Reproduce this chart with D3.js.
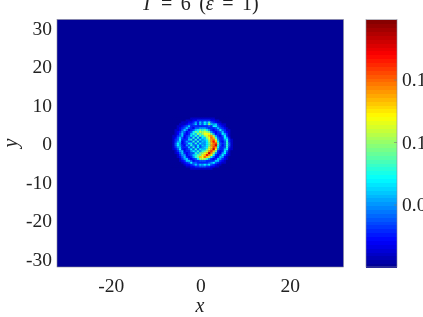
<!DOCTYPE html>
<html>
<head>
<meta charset="utf-8">
<script src="https://cdn.jsdelivr.net/npm/d3@7"></script>
<style>
  html, body { margin: 0; padding: 0; background: #fff; overflow: hidden; }
  text { font-family: "Liberation Serif", serif; fill: #222; }
</style>
</head>
<body>
<div id="chart"></div>
<script>
// values
var xTicks = [-20, 0, 20];
var yTicks = [30, 20, 10, 0, -10, -20, -30];
var cTicks = [0.05, 0.1, 0.15];
var cMax = 0.198;

// cell centres of the part of the field that is not zero (outside of it = 0)
var xCells = d3.range(28).map(i => -6.5 + i * 0.5);
var yCells = d3.range(28).map(i => 7 - i * 0.5);

// density x 100, one row per yCells entry, one number per xCells entry
var density = [
  [0,0,0,0,0,0,0,0,0,0,0,0,0,0,0,0,0,0,0,0,0,0,0,0,0,0,0,0],
  [0,0,0,0,0,0,0,0,0,1,1,1,1,1,1,1,1,1,1,1,0,0,0,0,0,0,0,0],
  [0,0,0,0,0,0,0,1,1,1,2,2,3,3,3,3,3,3,2,2,1,1,0,0,0,0,0,0],
  [0,0,0,0,0,1,1,1,2,2,3,5,3,6,4,7,5,8,4,3,2,1,1,0,0,0,0,0],
  [0,0,0,0,1,1,1,2,3,3,4,6,3,6,4,7,5,10,6,5,6,3,2,1,1,0,0,0],
  [0,0,0,1,1,2,3,4,6,3,3,3,3,3,3,3,3,4,3,7,7,4,3,2,1,0,0,0],
  [0,0,0,1,2,3,4,6,4,3,2,4,4,5,5,5,4,3,3,3,4,6,4,3,2,1,0,0],
  [0,0,1,1,2,4,6,4,2,3,4,6,7,9,8,9,7,5,3,2,3,4,7,4,3,1,1,0],
  [0,0,1,2,3,5,4,2,3,4,7,9,8,11,10,11,10,9,5,3,2,3,4,6,3,2,1,0],
  [0,0,1,2,4,6,3,2,3,6,8,6,10,8,10,12,12,12,9,5,2,3,3,7,5,3,1,0],
  [0,1,1,3,4,6,2,3,4,7,5,8,5,9,7,10,11,13,14,10,5,3,2,4,7,3,1,0],
  [0,1,2,4,6,4,2,3,5,4,8,4,8,4,7,6,10,12,15,13,8,4,3,3,7,5,2,0],
  [0,1,3,4,7,3,3,3,6,8,4,8,4,7,5,6,8,11,14,15,11,5,3,3,5,7,3,1],
  [0,1,3,5,6,2,3,5,4,4,8,4,8,4,6,5,7,10,14,17,13,7,3,2,4,8,3,1],
  [0,1,4,7,5,2,3,4,7,7,4,8,4,7,5,5,7,9,13,15,16,9,4,3,4,8,4,1],
  [0,1,4,7,5,3,2,5,4,8,5,4,7,4,6,5,7,9,14,15,18,8,4,2,4,8,4,1],
  [0,1,3,5,6,3,3,3,6,4,8,4,7,4,5,6,7,11,13,16,14,7,3,3,4,8,3,1],
  [0,1,2,4,7,3,2,3,4,7,4,8,4,7,6,6,9,12,14,18,12,5,3,3,6,7,2,1],
  [0,0,1,3,5,6,2,3,3,5,7,5,8,5,8,9,11,14,16,13,9,3,2,3,7,4,1,0],
  [0,0,1,2,4,6,3,2,3,4,4,8,6,9,10,12,13,18,14,10,5,3,2,5,7,3,1,0],
  [0,0,0,1,3,5,5,2,3,4,6,7,9,9,12,13,17,14,12,7,3,2,4,7,4,2,1,0],
  [0,0,0,1,2,4,6,3,2,3,5,8,9,13,12,15,13,11,7,4,2,3,6,5,2,1,0,0],
  [0,0,0,0,1,3,5,6,3,2,3,4,7,10,11,10,8,5,3,2,3,6,5,3,2,1,0,0],
  [0,0,0,0,1,2,3,6,6,4,2,3,3,4,4,4,3,3,3,3,6,6,3,2,1,0,0,0],
  [0,0,0,0,0,1,2,3,4,7,4,4,3,3,3,3,3,4,5,7,4,3,2,1,1,0,0,0],
  [0,0,0,0,0,0,1,2,2,3,4,6,4,6,5,7,5,7,4,3,2,1,1,0,0,0,0,0],
  [0,0,0,0,0,0,0,1,1,2,2,3,3,4,4,4,3,3,2,2,1,1,0,0,0,0,0,0],
  [0,0,0,0,0,0,0,0,0,1,1,1,1,1,1,1,1,1,1,0,0,0,0,0,0,0,0,0]
];

const plot = {left: 57, right: 343.5, top: 19.5, bottom: 267};
const bar = {left: 366, right: 397};

const svg = d3.select("#chart")
  .append("svg")
  .attr("width", 423)
  .attr("height", 317)
  .style("display", "block");

const xScale = d3.scaleLinear().domain([-32, 32]).range([plot.left, plot.right]);
const yScale = d3.scaleLinear().domain([-32.05, 32.2]).range([plot.bottom, plot.top]);
const cScale = d3.scaleLinear().domain([0, cMax]).range([plot.bottom, plot.top]);

// matlab jet, 64 levels
const jet = d3.scaleLinear()
  .domain([0, 0.11, 0.36, 0.61, 0.86, 1])
  .range(["#00008f", "#0000ff", "#00ffff", "#ffff00", "#ff0000", "#800000"])
  .clamp(true);
const levels = d3.range(64);
const levelColor = i => jet((i + 0.5) / 64);
const color = v => levelColor(Math.min(63, Math.floor(v / cMax * 64)));

const defs = svg.append("defs");
defs.append("clipPath").attr("id", "plotClip")
  .append("rect")
  .attr("x", plot.left).attr("y", plot.top)
  .attr("width", plot.right - plot.left).attr("height", plot.bottom - plot.top);
defs.append("filter").attr("id", "soft")
  .attr("x", "-10%").attr("y", "-10%").attr("width", "120%").attr("height", "120%")
  .append("feGaussianBlur").attr("stdDeviation", 0.55);
// the reference is a slightly soft raster, text included
defs.append("filter").attr("id", "softText")
  .attr("x", "-10%").attr("y", "-10%").attr("width", "120%").attr("height", "120%")
  .append("feGaussianBlur").attr("stdDeviation", 0.3);

// background of the field
svg.append("rect")
  .attr("x", plot.left).attr("y", plot.top)
  .attr("width", plot.right - plot.left).attr("height", plot.bottom - plot.top)
  .attr("fill", levelColor(0));

// field cells
const cellW = Math.abs(xScale(0.5) - xScale(0));
const cellH = Math.abs(yScale(0) - yScale(0.5));
svg.append("g")
  .attr("clip-path", "url(#plotClip)")
  .append("g")
  .attr("filter", "url(#soft)")
  .selectAll("g")
  .data(density)
  .join("g")
  .each(function (row, r) {
    d3.select(this).selectAll("rect")
      .data(row)
      .join("rect")
      .attr("x", (d, c) => xScale(xCells[c]) - cellW / 2)
      .attr("y", yScale(yCells[r]) - cellH / 2)
      .attr("width", cellW + 0.3)
      .attr("height", cellH + 0.3)
      .attr("fill", d => color(d / 100));
  });

svg.append("rect")
  .attr("x", plot.left).attr("y", plot.top)
  .attr("width", plot.right - plot.left).attr("height", plot.bottom - plot.top)
  .attr("fill", "none").attr("stroke", "#8a8a9a").attr("stroke-width", 0.6);

// axes
const xAxis = svg.append("g")
  .attr("transform", `translate(0,${plot.bottom})`)
  .call(d3.axisBottom(xScale).tickValues(xTicks).tickSize(0).tickPadding(10).tickFormat(String));
const yAxis = svg.append("g")
  .attr("transform", `translate(${plot.left},0)`)
  .call(d3.axisLeft(yScale).tickValues(yTicks).tickSize(0).tickPadding(5).tickFormat(String));
[xAxis, yAxis].forEach(a => {
  a.select(".domain").remove();
  a.selectAll("text").style("font-size", "19.5px").attr("font-family", null).style("fill", "#222")
    .attr("filter", "url(#softText)");
});
xAxis.selectAll("text").attr("dy", "0.75em");

// colorbar
const barBand = d3.scaleBand().domain(levels).range([plot.bottom, plot.top]);
svg.append("g")
  .attr("shape-rendering", "crispEdges")
  .selectAll("rect")
  .data(levels)
  .join("rect")
  .attr("x", bar.left)
  .attr("y", d => barBand(d))
  .attr("width", bar.right - bar.left)
  .attr("height", barBand.bandwidth() + 1)
  .attr("fill", d => levelColor(d));
svg.append("rect")
  .attr("x", bar.left).attr("y", plot.top)
  .attr("width", bar.right - bar.left).attr("height", plot.bottom - plot.top)
  .attr("fill", "none").attr("stroke", "#8a8a9a").attr("stroke-width", 0.6);

const cAxis = svg.append("g")
  .attr("transform", `translate(${bar.right},0)`)
  .call(d3.axisRight(cScale).tickValues(cTicks).tickSize(-3).tickPadding(5).tickFormat(d3.format(".2f")));
cAxis.select(".domain").remove();
cAxis.selectAll("line").attr("stroke", "#777").attr("stroke-width", 0.6);
cAxis.selectAll("text").style("font-size", "19.5px").attr("font-family", null).style("fill", "#222")
  .attr("filter", "url(#softText)");

// title and axis names
const title = svg.append("text")
  .attr("x", 200).attr("y", 10)
  .attr("text-anchor", "middle")
  .attr("filter", "url(#softText)")
  .style("font-size", "20px")
  .style("word-spacing", "3.5px");
title.append("tspan").style("font-style", "italic").text("T");
title.append("tspan").text(" = 6 (");
title.append("tspan").style("font-style", "italic").text("ε");
title.append("tspan").text(" = 1)");

svg.append("text")
  .attr("x", 200).attr("y", 312)
  .attr("text-anchor", "middle")
  .attr("filter", "url(#softText)")
  .style("font-size", "20px").style("font-style", "italic")
  .text("x");
svg.append("text")
  .attr("transform", "translate(17,143) rotate(-90)")
  .attr("text-anchor", "middle")
  .attr("filter", "url(#softText)")
  .style("font-size", "20px").style("font-style", "italic")
  .text("y");
</script>
</body>
</html>
